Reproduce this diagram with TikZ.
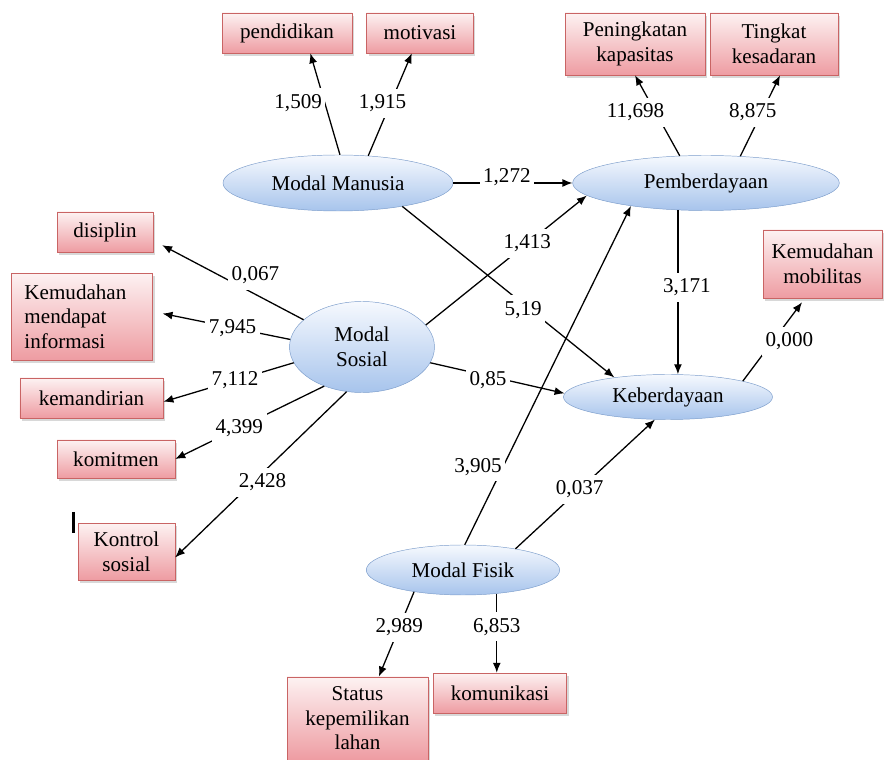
\documentclass[tikz,border=0pt]{standalone}
\usepackage{fontspec}
\setmainfont{Liberation Serif}
\usetikzlibrary{shapes.geometric,arrows.meta,shadows}
\definecolor{boxtop}{HTML}{FDF2F2}
\definecolor{boxbot}{HTML}{EE9CA2}
\definecolor{boxline}{HTML}{C96464}
\definecolor{elltop}{HTML}{F6F9FE}
\definecolor{ellbot}{HTML}{A7C4EC}
\definecolor{ellline}{HTML}{7C9DCB}
\tikzset{
	box/.style={draw=boxline, top color=boxtop, bottom color=boxbot, drop shadow={shadow xshift=.6mm, shadow yshift=-.9mm, fill=black!30}, inner sep=0pt, align=center},
	latent/.style={ellipse, draw=ellline, top color=elltop, bottom color=ellbot, inner sep=0pt, align=center},
	lab/.style={fill=white, inner xsep=3pt, inner ysep=5pt},
	arr/.style={-{Latex[length=3mm,width=2.4mm]}, line width=1.1pt},
}
\begin{document}
\begin{tikzpicture}[x=0.3mm, y=-0.3mm, every node/.style={font=\fontsize{18}{21}\selectfont}]
	\useasboundingbox (0,0) rectangle (895,760);
	% latent variables
	\node[latent, minimum width=69mm, minimum height=16.8mm] (mm) at (338,183) {Modal Manusia};
	\node[latent, minimum width=80mm, minimum height=16.5mm] (pemb) at (706,183) {Pemberdayaan};
	\node[latent, minimum width=43.5mm, minimum height=27.3mm] (ms) at (362,347) {Modal\\Sosial};
	\node[latent, minimum width=62.7mm, minimum height=13.5mm] (keb) at (668,397) {Keberdayaan};
	\node[latent, minimum width=58mm, minimum height=15mm] (mf) at (463,570) {Modal Fisik};
	% indicators
	\node[box, minimum width=39mm, minimum height=12mm] (pend) at (287,33) {pendidikan};
	\node[box, minimum width=32mm, minimum height=12mm] (motiv) at (420,33) {motivasi};
	\node[box, minimum width=42mm, minimum height=18.6mm] (kap) at (635,44) {Peningkatan\\kapasitas};
	\node[box, minimum width=38.4mm, minimum height=18.6mm] (sadar) at (774,44) {Tingkat\\kesadaran};
	\node[box, minimum width=28.8mm, minimum height=12mm] (disip) at (105,232) {disiplin};
	\node[box, minimum width=42.3mm, minimum height=26mm, text width=34.5mm, align=left] (info) at (82,316.5) {Kemudahan\\mendapat\\informasi};
	\node[box, minimum width=43mm, minimum height=12mm] (mandiri) at (91.5,398) {kemandirian};
	\node[box, minimum width=35.4mm, minimum height=11.4mm] (komit) at (116,459) {komitmen};
	\node[box, minimum width=29mm, minimum height=17mm] (kontrol) at (126.5,551.5) {Kontrol\\sosial};
	\node[box, minimum width=35.7mm, minimum height=20.4mm] (mobil) at (822.5,264) {Kemudahan\\mobilitas};
	\node[box, minimum width=42.3mm, minimum height=25mm] (lahan) at (357.5,718.5) {Status\\kepemilikan\\lahan};
	\node[box, minimum width=40mm, minimum height=12mm] (komu) at (500,693) {komunikasi};
	% stray mark
	\draw[line width=1mm] (73.5,512) -- (73.5,533);
	% loadings
	\draw[arr] (mm.86) -- node[lab, pos=.51, xshift=-8mm] (l1) {1,509} (pend.-41);
	\draw[arr] (mm.42) -- node[lab, pos=.51, xshift=-2.4mm] (l2) {1,915} (motiv.-112);
	\draw[arr] (pemb.134) -- node[lab, pos=.54, xshift=-6mm] (l3) {11,698} (kap.south);
	\draw[arr] (pemb.38) -- node[lab, pos=.54, xshift=-2.7mm] (l4) {8,875} (sadar.-79);
	\draw[arr, shorten >=3mm] (ms.155) -- node[lab, pos=.32, yshift=5.7mm] (l5) {0,067} (disip.-10);
	\draw[arr, shorten >=3mm] (ms.174) -- node[lab, pos=.42] (l6) {7,945} (info.4.5);
	\draw[arr] (ms.193) -- node[lab, pos=.45] (l7) {7,112} (mandiri.-3);
	\draw[arr] (ms.226) -- node[lab, pos=.57] (l8) {4,399} (komit.east);
	\draw[arr] (ms.251) -- node[lab, pos=.49, yshift=-2.8mm] (l9) {2,428} (kontrol.-7.6);
	\draw[arr, shorten >=1.5mm] (keb.12.8) -- node[lab, pos=.48, xshift=5mm] (l10) {0,000} (mobil.243);
	\draw[arr] (mf.204) -- node[lab, pos=.42] (l11) {2,989} (lahan.63.7);
	\draw[arr] (mf.-35) -- node[lab, pos=.42] (l12) {6,853} (mf.-35 |- komu.north);
	% paths
	\draw[arr] (mm.east) -- node[lab, pos=.45, yshift=1.8mm] (l13) {1,272} (pemb.west);
	\draw[arr] (mm.-20.8) -- node[lab, pos=.57, yshift=-1.8mm] (l14) {5,19} (keb.160);
	\draw[arr] (ms.19) -- node[lab, pos=.63] (l15) {1,413} (pemb.186);
	\draw[arr] (ms.-13) -- node[lab, pos=.43, yshift=-1.2mm] (l16) {0,85} (keb.178);
	\draw[arr] (pemb.224) -- node[lab, pos=.47, xshift=2.7mm] (l17) {3,171} (pemb.224 |- keb.north);
	\draw[arr] (mf.86) -- node[lab, pos=.23, xshift=-7.5mm] (l18) {3,905} (pemb.197.5);
	\draw[arr] (mf.22) -- node[lab, pos=.46] (l19) {0,037} (keb.240);
\end{tikzpicture}
\end{document}
